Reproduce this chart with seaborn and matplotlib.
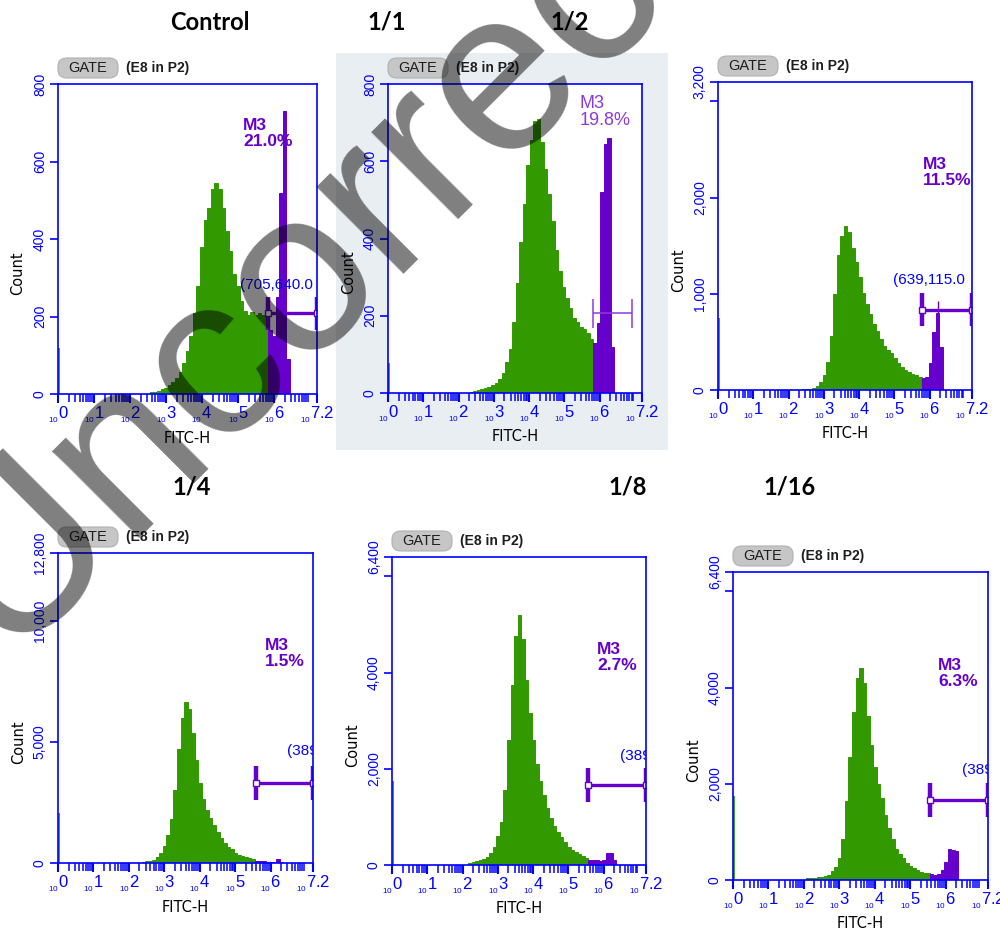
import matplotlib
matplotlib.use("Agg")
import matplotlib.pyplot as plt
import numpy as np
import pandas as pd
import seaborn as sns
from matplotlib.patches import FancyBboxPatch, Rectangle
from matplotlib.ticker import LogLocator, NullFormatter

# ---------------- data ----------------
panel_titles = ["Control", "1/1", "1/2", "1/4", "1/8", "1/16"]
m3_percent = ["21.0%", "19.8%", "11.5%", "1.5%", "2.7%", "6.3%"]
gate_coords = ["(705,640.0", "", "(639,115.0", "(389", "(389", "(389"]
count_max = [800, 800, 3200, 12800, 6400, 6400]
count_ticks = [[0, 200, 400, 600, 800], [0, 200, 400, 600, 800],
               [0, 1000, 2000, 3000, 3200], [0, 5000, 10000, 12800],
               [0, 2000, 4000, 6000, 6400], [0, 2000, 4000, 6000, 6400]]
count_ticklabels = [["0", "200", "400", "600", "800"], ["0", "200", "400", "600", "800"],
                    ["0", "1,000", "2,000", "", "3,200"], ["0", "5,000", "10,000", "12,800"],
                    ["0", "2,000", "4,000", "", "6,400"], ["0", "2,000", "4,000", "", "6,400"]]
decade_ticks = [0, 1, 2, 3, 4, 5, 6, 7.2]
decade_labels = ["0", "1", "2", "3", "4", "5", "6", "7.2"]

# histogram counts in 0.1-decade bins of log10(FITC-H); *_start = left edge of first bin
control_start = 2.55
control_green = [5, 6, 9, 12, 16, 22, 30, 42, 58, 80, 110, 150, 210, 280, 380, 450, 480,
                 530, 545, 530, 480, 420, 370, 310, 280, 240, 215, 205, 212, 205, 210, 205, 200]
control_m3 = [165, 150, 250, 520, 730, 90]

d1_start = 2.32
d1_green = [3, 5, 8, 10, 13, 15, 20, 25, 35, 52, 80, 115, 185, 285, 390, 490, 590, 655,
            705, 710, 650, 580, 515, 445, 370, 315, 275, 245, 220, 195, 185, 172, 165, 155, 140]
d1_m3 = [130, 180, 520, 645, 660, 120]

d2_start = 2.37
d2_green = [6, 8, 12, 20, 45, 85, 160, 290, 560, 1000, 1400, 1600, 1700, 1640, 1480, 1330,
            1170, 1010, 890, 790, 690, 610, 535, 460, 420, 380, 330, 280, 240, 205, 183, 165, 152, 140]
d2_m3 = [125, 138, 280, 600, 800, 450]

d4_start = 2.36
d4_green = [55, 75, 100, 140, 240, 400, 700, 1150, 1800, 3000, 4700, 6000, 6650, 6350, 5350,
            4250, 3300, 2650, 2200, 1850, 1550, 1280, 1050, 830, 680, 560, 430, 350, 280, 235, 200, 150]
d4_m3 = [100, 80, 70, 40, 30, 50, 150, 60]

d8_start = 2.16
d8_green = [48, 60, 75, 95, 120, 160, 240, 370, 600, 900, 1550, 2600, 3750, 4750, 5200, 4700,
            3850, 3150, 2600, 2100, 1750, 1450, 1180, 980, 820, 690, 580, 480, 380, 320, 260, 220, 180, 150]
d8_m3 = [110, 100, 95, 90, 110, 240, 250, 100]

d16_start = 2.06
d16_green = [35, 40, 45, 55, 65, 85, 110, 180, 280, 450, 850, 1650, 2550, 3500, 4200, 4400,
             4100, 3400, 2800, 2350, 2000, 1700, 1350, 1080, 850, 650, 540, 450, 350, 290, 240,
             200, 170, 150, 140]
d16_m3 = [120, 105, 120, 200, 380, 650, 630, 600]

edge_counts = [120, 77, 745, 2050, 1750, 1750]

# M3 marker range (decades) and level (count)
m3_low = [5.85, 5.82, 5.78, 5.59, 5.56, 5.56]
m3_high = [7.2, 6.92, 7.2, 7.2, 7.2, 7.2]
m3_level = [208, 207, 833, 3300, 1660, 1660]

panels = [(control_start, control_green, control_m3), (d1_start, d1_green, d1_m3),
          (d2_start, d2_green, d2_m3), (d4_start, d4_green, d4_m3),
          (d8_start, d8_green, d8_m3), (d16_start, d16_green, d16_m3)]

# ---------------- layout ----------------
W, H = 1000, 932
axes_px = [(58, 84, 317, 394), (388, 84, 642, 393), (718, 82, 972, 390),
           (58, 553, 313, 863), (392, 557, 646, 865), (733, 572, 988, 880)]
title_px = [(210, 22), (387, 22), (570, 22), (192, 487), (628, 487), (790, 487)]
m3_text_pos = [(5.14, 712), (5.44, 771), (5.81, 2420), (5.84, 9290), (5.81, 4630), (5.79, 4610)]
coord_text_pos = [(5.06, 262), None, (4.96, 1073), (6.47, 4323), (6.46, 2126), (6.47, 2147)]

GREEN = "#339900"
PURPLE = "#6600cc"
PURPLE_LIGHT = "#8c3ae0"
BLUE = "#0000ff"
BINW = 0.1

plt.rcParams["mathtext.fontset"] = "custom"
plt.rcParams["mathtext.rm"] = "Liberation Sans"
plt.rcParams["mathtext.it"] = "Liberation Sans:italic"
plt.rcParams["mathtext.bf"] = "Liberation Sans:bold"

fig = plt.figure(figsize=(W / 100, H / 100), dpi=100)
fig.patch.set_facecolor("white")

# light background behind panel 1/1
fig.add_artist(Rectangle((336 / W, 1 - 450 / H), (668 - 336) / W, (450 - 53) / H,
                         transform=fig.transFigure, facecolor="#e9eef2", edgecolor="none", zorder=-5))


def draw_hist(ax, start, values, color):
    n = len(values)
    logc = start + BINW / 2 + BINW * np.arange(n)
    df = pd.DataFrame({"fitc": 10 ** logc, "count": values})
    sns.histplot(data=df, x="fitc", weights="count", binwidth=BINW,
                 binrange=(start, start + BINW * n), log_scale=True, element="bars",
                 shrink=1, fill=True, color=color, alpha=1, linewidth=0.7,
                 edgecolor=color, ax=ax)


for i, (start, green, m3) in enumerate(panels):
    x0, y0, x1, y1 = axes_px[i]
    ax = fig.add_axes([x0 / W, 1 - y1 / H, (x1 - x0) / W, (y1 - y0) / H])
    ax.set_facecolor("white")
    draw_hist(ax, start, green, GREEN)
    draw_hist(ax, start + BINW * len(green), m3, PURPLE)
    ax.vlines(10 ** 0.015, 0, edge_counts[i], color=GREEN, lw=1.3)

    ymax = count_max[i]
    ax.set_xscale("log")
    ax.set_xlim(1, 10 ** 7.2)
    ax.set_ylim(0, ymax)

    # M3 gate marker
    lo, hi, lvl = 10 ** m3_low[i], 10 ** m3_high[i], m3_level[i]
    if i == 1:
        ax.plot([lo, hi], [lvl, lvl], color=PURPLE_LIGHT, lw=1.1, solid_capstyle="butt")
        ax.vlines([lo, hi], lvl - 0.047 * ymax, lvl + 0.047 * ymax, color=PURPLE_LIGHT, lw=1.1)
    else:
        ax.plot([lo, hi], [lvl, lvl], color=PURPLE, lw=2.4, solid_capstyle="butt")
        ax.vlines([lo, hi], lvl - 0.054 * ymax, lvl + 0.054 * ymax, color=PURPLE, lw=3.2)
        ax.plot([lo, hi], [lvl, lvl], ls="none", marker="s", ms=4.2, mfc="white",
                mec=PURPLE, mew=1.0)
    if i == 2:
        ax.vlines(10 ** 6.24, lvl - 0.012 * ymax, lvl + 0.03 * ymax, color=PURPLE, lw=1.0)

    # texts inside
    mx, my = m3_text_pos[i]
    if i == 1:
        ax.text(10 ** mx, my, "M3\n" + m3_percent[i], color=PURPLE_LIGHT, fontsize=13,
                family="Liberation Sans", va="top", ha="left", linespacing=1.0)
    else:
        ax.text(10 ** mx, my, "M3\n" + m3_percent[i], color=PURPLE, fontsize=12.5,
                fontweight="bold", family="Liberation Sans", va="top", ha="left",
                linespacing=1.05)
    if coord_text_pos[i] is not None:
        cx, cy = coord_text_pos[i]
        ax.text(10 ** cx, cy, gate_coords[i], color=BLUE, fontsize=11,
                family="Liberation Sans", va="bottom", ha="left", clip_on=True)

    # spines & ticks
    for s in ax.spines.values():
        s.set_color(BLUE)
        s.set_linewidth(1.2)
    ax.set_yticks(count_ticks[i])
    ax.set_yticklabels(count_ticklabels[i], rotation=90, va="center", color=BLUE,
                       fontsize=10, family="Liberation Sans")
    ax.tick_params(axis="y", direction="out", length=6, width=1.2, color=BLUE, pad=2)
    ax.set_xticks([10 ** d for d in decade_ticks])
    ax.set_xticklabels([r"$_{_{10}}$" + lab for lab in decade_labels], color=BLUE,
                       fontsize=12, family="Liberation Sans")
    ax.xaxis.set_minor_locator(LogLocator(base=10, subs=range(2, 10), numticks=30))
    ax.xaxis.set_minor_formatter(NullFormatter())
    ax.tick_params(axis="x", which="major", direction="out", length=6.5, width=1.5,
                   color=BLUE, pad=1.0)
    ax.tick_params(axis="x", which="minor", direction="out", length=6, width=1.1, color=BLUE)

    ax.set_xlabel("FITC-H", fontsize=10.5, color="black", family="DejaVu Sans")
    ax.xaxis.label.set_va("center")
    ax.xaxis.set_label_coords(0.5, -0.142)
    ax.set_ylabel("Count", fontsize=10.5, color="black", family="DejaVu Sans")
    ax.yaxis.label.set_va("center")
    ax.yaxis.set_label_coords(-0.155, 0.39)

    # GATE badge
    fig.add_artist(FancyBboxPatch((x0 / W, 1 - (y0 - 6) / H), 60 / W, 20 / H,
                                  boxstyle="round,pad=0,rounding_size=0.009",
                                  transform=fig.transFigure, facecolor="#c6c6c6",
                                  edgecolor="#b0b0b0", lw=0.8))
    fig.text((x0 + 30) / W, 1 - (y0 - 16) / H, "GATE", ha="center", va="center",
             fontsize=10.5, color="#1e1e1e", family="Liberation Sans")
    fig.text((x0 + 68) / W, 1 - (y0 - 16) / H, "(E8 in P2)", ha="left", va="center",
             fontsize=10, fontweight="bold", color="#1e1e1e", family="Liberation Sans")

    # panel title
    tx, ty = title_px[i]
    fig.text(tx / W, 1 - ty / H, panel_titles[i], ha="center", va="center",
             fontsize=17, fontweight="bold", color="black", family="Lato")

# watermark
fig.text(5 / W, 1 - 655 / H, "Uncorrected", fontsize=167, rotation=45,
         rotation_mode="anchor", ha="left", va="baseline", color="black", alpha=0.5,
         family="Liberation Sans", zorder=100)

fig.savefig("out.png", dpi=100)
